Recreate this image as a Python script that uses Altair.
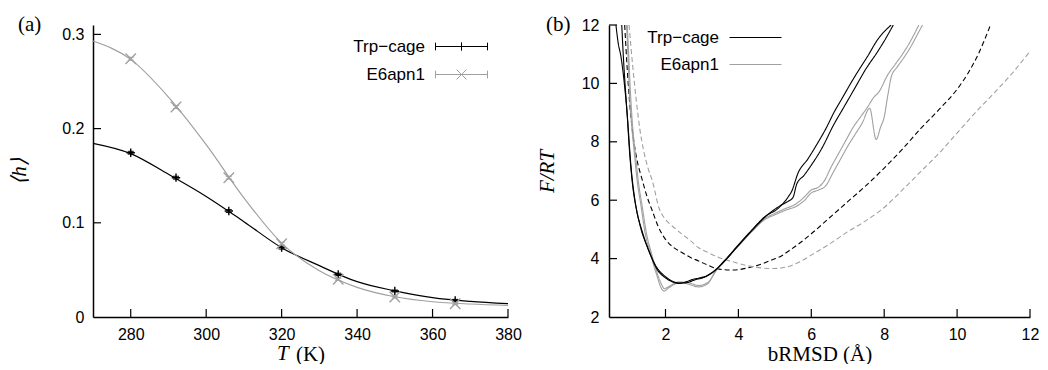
import altair as alt
import pandas as pd

SERIES = ["Trp-cage", "E6apn1"]
COLORS = ["#000000", "#a0a0a0"]

# ---------------- panel (a) data ----------------
T_curve = [270, 280, 290, 300, 310, 320, 330, 340, 350, 360, 370, 380]
h_curve_trp = [0.1844, 0.1735, 0.1515, 0.128, 0.1012, 0.0736, 0.0545, 0.0375, 0.0278, 0.0205, 0.0165, 0.0141]
h_curve_e6 = [0.293, 0.2735, 0.2335, 0.183, 0.1265, 0.0785, 0.049, 0.0315, 0.0215, 0.0162, 0.0138, 0.0124]

T_pts = [280, 292, 306, 320, 335, 350, 366]
h_pts_trp = [0.1744, 0.1479, 0.1125, 0.0736, 0.0453, 0.0276, 0.0177]
h_pts_e6 = [0.2742, 0.2229, 0.1479, 0.0778, 0.0400, 0.0212, 0.0141]
h_err_trp = [0.0015, 0.0015, 0.0015, 0.0015, 0.0012, 0.0010, 0.0010]
h_err_e6 = [0.0015, 0.0015, 0.0015, 0.0015, 0.0012, 0.0010, 0.0010]

xticks_a = [280, 300, 320, 340, 360, 380]
ylabels_a = [0, 0.1, 0.2, 0.3]
yticks_a = [0.1, 0.2, 0.3]

# ---------------- panel (b) data ----------------
black_A_x = [0.64, 0.70, 0.78, 0.87, 0.95, 1.00, 1.09, 1.20, 1.36, 1.55, 1.77, 2.00, 2.20, 2.37, 2.55, 2.73, 2.90, 3.09, 3.32, 3.64, 4.00, 4.37, 4.73, 5.09, 5.37, 5.46, 5.64, 5.90, 6.18, 6.40, 6.62, 6.85, 7.09, 7.30, 7.55, 7.82, 8.19]
black_A_F = [12.0, 11.4, 10.9, 10.0, 8.9, 7.9, 6.6, 5.7, 4.93, 4.25, 3.63, 3.34, 3.2, 3.15, 3.2, 3.28, 3.33, 3.39, 3.56, 3.96, 4.47, 4.98, 5.44, 5.72, 6.12, 6.3, 6.94, 7.4, 7.97, 8.45, 9.0, 9.5, 10.02, 10.45, 10.94, 11.5, 12.0]
black_B_x = [0.80, 0.84, 0.90, 0.97, 1.05, 1.15, 1.30, 1.50, 1.75, 2.00, 2.20, 2.40, 2.60, 2.80, 3.10, 3.35, 3.65, 4.00, 4.40, 4.80, 5.20, 5.35, 5.50, 5.60, 5.80, 6.00, 6.30, 6.60, 6.90, 7.20, 7.50, 7.80, 8.00, 8.25]
black_B_F = [12.0, 11.0, 9.8, 8.6, 7.2, 6.1, 5.15, 4.4, 3.72, 3.38, 3.22, 3.16, 3.18, 3.27, 3.38, 3.58, 3.95, 4.45, 5.0, 5.5, 5.85, 5.95, 6.1, 6.55, 6.85, 7.2, 7.8, 8.55, 9.2, 9.85, 10.5, 11.05, 11.45, 12.0]
gray_A_x = [0.93, 0.97, 1.00, 1.07, 1.14, 1.23, 1.32, 1.46, 1.59, 1.68, 1.77, 1.85, 1.96, 2.09, 2.25, 2.36, 2.50, 2.64, 2.91, 3.05, 3.18, 3.37, 3.64, 4.00, 4.37, 4.73, 5.00, 5.30, 5.55, 5.80, 6.00, 6.20, 6.35, 6.55, 6.75, 6.95, 7.15, 7.35, 7.55, 7.70, 7.85, 8.10, 8.30, 8.50, 8.70, 8.85, 8.95]
gray_A_F = [12.0, 11.0, 9.95, 8.6, 7.68, 6.6, 5.87, 4.75, 4.2, 3.75, 3.4, 3.08, 2.89, 3.0, 3.12, 3.19, 3.17, 3.12, 3.03, 3.07, 3.17, 3.57, 3.96, 4.45, 4.95, 5.38, 5.55, 5.72, 5.85, 6.1, 6.35, 6.45, 6.65, 7.15, 7.6, 8.05, 8.5, 8.85, 9.2, 9.5, 9.7, 10.3, 10.65, 11.0, 11.4, 11.75, 12.0]
gray_B_x = [0.95, 0.99, 1.03, 1.10, 1.18, 1.27, 1.36, 1.48, 1.60, 1.70, 1.80, 1.88, 1.97, 2.10, 2.36, 2.64, 2.91, 3.18, 3.37, 3.64, 4.00, 4.37, 4.73, 5.00, 5.30, 5.60, 5.80, 6.00, 6.20, 6.40, 6.60, 6.80, 7.00, 7.20, 7.40, 7.60, 7.78, 7.90, 8.00, 8.10, 8.20, 8.35, 8.55, 8.75, 8.90, 9.05]
gray_B_F = [12.0, 11.0, 9.9, 8.5, 7.5, 6.5, 5.8, 4.85, 4.25, 3.8, 3.4, 3.15, 2.97, 3.05, 3.2, 3.17, 3.08, 3.2, 3.55, 3.94, 4.43, 4.92, 5.34, 5.5, 5.66, 5.8, 5.98, 6.25, 6.35, 6.5, 6.95, 7.4, 7.85, 8.25, 8.65, 9.15, 8.08, 8.5, 8.85, 9.6, 10.25, 10.55, 10.9, 11.3, 11.65, 12.0]
dash_black_x = [0.88, 0.95, 1.00, 1.10, 1.20, 1.37, 1.50, 1.64, 1.80, 2.00, 2.20, 2.46, 2.70, 2.91, 3.15, 3.37, 3.60, 3.82, 4.05, 4.28, 4.50, 4.73, 4.95, 5.18, 5.40, 5.64, 6.00, 6.50, 7.00, 7.50, 8.00, 8.50, 9.00, 9.50, 10.00, 10.30, 10.60, 10.90]
dash_black_F = [12.0, 10.5, 9.6, 8.3, 7.5, 6.66, 6.1, 5.63, 5.1, 4.66, 4.4, 4.2, 4.03, 3.92, 3.78, 3.67, 3.62, 3.61, 3.63, 3.69, 3.76, 3.86, 3.97, 4.09, 4.28, 4.49, 4.85, 5.4, 5.95, 6.5, 7.1, 7.75, 8.45, 9.1, 9.8, 10.35, 11.05, 11.95]
dash_gray_x = [1.00, 1.10, 1.20, 1.30, 1.40, 1.52, 1.64, 1.82, 2.00, 2.20, 2.46, 2.70, 2.91, 3.15, 3.37, 3.60, 3.82, 4.05, 4.28, 4.50, 4.73, 4.95, 5.18, 5.40, 5.60, 5.80, 6.00, 6.50, 7.00, 7.50, 8.00, 8.50, 9.00, 9.50, 10.00, 10.50, 11.00, 11.50, 12.00]
dash_gray_F = [12.0, 10.6, 9.4, 8.4, 7.7, 7.1, 6.66, 5.74, 5.34, 5.1, 4.83, 4.6, 4.37, 4.22, 4.09, 3.98, 3.9, 3.82, 3.75, 3.7, 3.67, 3.66, 3.68, 3.74, 3.84, 3.97, 4.12, 4.5, 4.92, 5.3, 5.75, 6.35, 6.98, 7.6, 8.3, 9.0, 9.65, 10.33, 11.1]

xlabels_b = [2, 4, 6, 8, 10, 12]
ylabels_b = [2, 4, 6, 8, 10, 12]
yticks_b = [4, 6, 8, 10, 12]

# ---------------- layout constants ----------------
WA, WB, H = 415, 421, 292
SANS = "Liberation Sans"
SERIF = "Liberation Serif"
TICK = 8
LEGEND_FS = 17
MINUS_LABEL = "replace(datum.label, '-', '\u2212')"

# ---------------- tables ----------------
curve_a = pd.DataFrame({
    "T": T_curve + T_curve,
    "h": h_curve_trp + h_curve_e6,
    "series": [SERIES[0]] * len(T_curve) + [SERIES[1]] * len(T_curve),
})
pts_a = pd.DataFrame({
    "T": T_pts + T_pts,
    "h": h_pts_trp + h_pts_e6,
    "err": h_err_trp + h_err_e6,
    "series": [SERIES[0]] * len(T_pts) + [SERIES[1]] * len(T_pts),
})
pts_a["lo"] = pts_a["h"] - pts_a["err"]
pts_a["hi"] = pts_a["h"] + pts_a["err"]

rows = []
for name, ser, kind, xs, fs in [
    ("dashB", SERIES[0], "dashed", dash_black_x, dash_black_F),
    ("dashG", SERIES[1], "dashed", dash_gray_x, dash_gray_F),
    ("grayA", SERIES[1], "solid", gray_A_x, gray_A_F),
    ("grayB", SERIES[1], "solid", gray_B_x, gray_B_F),
    ("blackA", SERIES[0], "solid", black_A_x, black_A_F),
    ("blackB", SERIES[0], "solid", black_B_x, black_B_F),
]:
    for i, (xv, fv) in enumerate(zip(xs, fs)):
        rows.append({"x": xv, "F": fv, "series": ser, "kind": kind, "curve": name, "i": i})
curves_b = pd.DataFrame(rows)

color_scale = alt.Scale(domain=SERIES, range=COLORS)

# ---------------- panel (a) ----------------
xa_scale = alt.Scale(domain=[270, 380], nice=False, zero=False)
ya_scale = alt.Scale(domain=[0, 0.31], nice=False, zero=False)
xa_axis = alt.Axis(values=xticks_a, ticks=False, grid=False, labelPadding=9, labelFlush=False,
                   labelOverlap=False, titleX=217, titleY=43, titleBaseline="alphabetic", format="d")
ya_axis = alt.Axis(values=ylabels_a, ticks=False, grid=False, labelPadding=9, labelFlush=False,
                   labelOverlap=False, titleX=-74, titleBaseline="middle", format=".1~f",
                   titleFontStyle="italic")


def XA(f):
    return alt.X(f"{f}:Q", scale=xa_scale, axis=xa_axis, title="(K)")


def YA(f):
    return alt.Y(f"{f}:Q", scale=ya_scale, axis=ya_axis, title="⟨h⟩")


PLUS = "M-1,0H1M0,-1V1"
CROSS = "M-1,-1L1,1M-1,1L1,-1"
MARKERS = {SERIES[0]: (PLUS, 70), SERIES[1]: (CROSS, 110)}

series_layers = []
for s, c in zip(SERIES, COLORS):
    sel = alt.datum.series == s
    shp, sz = MARKERS[s]
    series_layers.append(alt.Chart(curve_a).transform_filter(sel).mark_line(
        strokeWidth=1.2, interpolate="monotone", color=c).encode(x=XA("T"), y=YA("h")))
    series_layers.append(alt.Chart(pts_a).transform_filter(sel).mark_rule(
        strokeWidth=1, color=c).encode(x=XA("T"), y=YA("lo"), y2="hi:Q"))
    series_layers.append(alt.Chart(pts_a).transform_filter(sel).mark_tick(
        orient="horizontal", size=6, thickness=1, opacity=1, color=c).encode(x=XA("T"), y=YA("lo")))
    series_layers.append(alt.Chart(pts_a).transform_filter(sel).mark_tick(
        orient="horizontal", size=6, thickness=1, opacity=1, color=c).encode(x=XA("T"), y=YA("hi")))
    series_layers.append(alt.Chart(pts_a).transform_filter(sel).mark_point(
        shape=shp, size=sz, filled=False, strokeWidth=1.4, opacity=1, color=c).encode(x=XA("T"), y=YA("h")))

# legend symbols: centre of symbol column is at x=8.5; paths in units of 7 px,
# drawn to the right of the (right-aligned) labels.
PATH_A = ("M2.714,0H10.143M2.714,-0.55V0.55M10.143,-0.55V0.55"
          "M5.829,0H7.029M6.429,-0.6V0.6")
PATH_B = ("M2.714,0H10.143M2.714,-0.55V0.55M10.143,-0.55V0.55"
          "M5.729,-0.7L7.129,0.7M5.729,0.7L7.129,-0.7")
PATH_LINE = "M2.714,0H10.143"

leg_a = alt.Legend(title=None, orient="none", legendX=315, legendY=13, labelAlign="right",
                   labelOffset=0, symbolSize=196, symbolStrokeWidth=1, rowPadding=10,
                   labelFont=SANS, labelFontSize=LEGEND_FS, labelColor="black", padding=0,
                   labelExpr=MINUS_LABEL)
legend_a = alt.Chart(pts_a).transform_filter("false").mark_point(
    filled=False, size=196, strokeWidth=1, opacity=1).encode(
    x=XA("T"), y=YA("h"),
    color=alt.Color("series:N", scale=color_scale, legend=leg_a),
    shape=alt.Shape("series:N", scale=alt.Scale(domain=SERIES, range=[PATH_A, PATH_B]), legend=leg_a),
)

xt_a = alt.Chart(pd.DataFrame({"T": xticks_a})).mark_rule(color="black", strokeWidth=1.2).encode(
    x=XA("T"), y=alt.value(H), y2=alt.value(H - TICK))
yt_a = alt.Chart(pd.DataFrame({"h": yticks_a})).mark_rule(color="black", strokeWidth=1.2).encode(
    y=YA("h"), x=alt.value(0), x2=alt.value(TICK))
lab_a = alt.Chart(pd.DataFrame({"t": ["(a)"]})).mark_text(
    font=SERIF, fontSize=21, align="left", baseline="alphabetic", color="black").encode(
    text="t:N", x=alt.value(-75), y=alt.value(6))
tsym_a = alt.Chart(pd.DataFrame({"t": ["T"]})).mark_text(
    font=SERIF, fontSize=21, fontStyle="italic", align="left", baseline="alphabetic", color="black").encode(
    text="t:N", x=alt.value(184), y=alt.value(H + 43))

panel_a = alt.layer(xt_a, yt_a, *series_layers, legend_a, lab_a, tsym_a).properties(width=WA, height=H)

# ---------------- panel (b) ----------------
xb_scale = alt.Scale(domain=[0.45, 12], nice=False, zero=False)
yb_scale = alt.Scale(domain=[2, 12], nice=False, zero=False)
xb_axis = alt.Axis(values=xlabels_b, ticks=False, grid=False, labelPadding=9, labelFlush=False,
                   labelOverlap=False, titleY=43, titleBaseline="alphabetic", format="d")
yb_axis = alt.Axis(values=ylabels_b, ticks=False, grid=False, labelPadding=10, labelFlush=False,
                   labelOverlap=False, titleX=-62, titleBaseline="middle", format="d",
                   titleFontStyle="italic")


def XB(f):
    return alt.X(f"{f}:Q", scale=xb_scale, axis=xb_axis, title="bRMSD (Å)")


def YB(f):
    return alt.Y(f"{f}:Q", scale=yb_scale, axis=yb_axis, title="F/RT")


leg_b = alt.Legend(title=None, orient="none", legendX=93, legendY=4, labelAlign="right",
                   labelOffset=0, symbolType=PATH_LINE, symbolSize=196, symbolStrokeWidth=1.2,
                   rowPadding=9, labelFont=SANS, labelFontSize=LEGEND_FS, labelColor="black", padding=0,
                   labelExpr=MINUS_LABEL)

lines_b = alt.Chart(curves_b).mark_line(strokeWidth=1.1, interpolate="monotone", clip=True).encode(
    x=XB("x"), y=YB("F"),
    color=alt.Color("series:N", scale=color_scale, legend=leg_b),
    strokeDash=alt.StrokeDash("kind:N", scale=alt.Scale(domain=["solid", "dashed"], range=[[1, 0], [5, 3]]),
                              legend=None),
    detail="curve:N",
    order="i:Q",
)
xt_b = alt.Chart(pd.DataFrame({"x": xlabels_b})).mark_rule(color="black", strokeWidth=1.2).encode(
    x=XB("x"), y=alt.value(H), y2=alt.value(H - TICK))
yt_b = alt.Chart(pd.DataFrame({"F": yticks_b})).mark_rule(color="black", strokeWidth=1.2).encode(
    y=YB("F"), x=alt.value(0), x2=alt.value(TICK))
lab_b = alt.Chart(pd.DataFrame({"t": ["(b)"]})).mark_text(
    font=SERIF, fontSize=21, align="left", baseline="alphabetic", color="black").encode(
    text="t:N", x=alt.value(-63), y=alt.value(6))

panel_b = alt.layer(xt_b, yt_b, lines_b, lab_b).properties(width=WB, height=H)

chart = alt.hconcat(panel_a, panel_b, spacing=101, bounds="flush").resolve_scale(
    color="independent", shape="independent", strokeDash="independent"
).resolve_legend(color="independent", shape="independent").properties(
    padding={"left": 0, "top": 6, "right": 0, "bottom": 0}
).configure_view(stroke=None).configure_axis(
    domainColor="black", domainWidth=1.5, labelFont=SANS, labelFontSize=16, labelColor="black",
    titleFont=SERIF, titleFontSize=21, titleFontWeight="normal", titleColor="black",
).configure_scale(continuousPadding=0)

chart.save("out.html", embed_options={"renderer": "svg", "actions": False})
